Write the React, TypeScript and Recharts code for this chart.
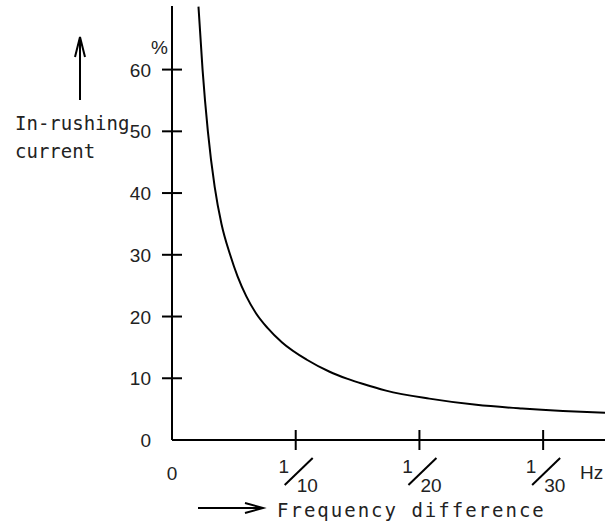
import { LineChart, Line, XAxis, YAxis } from 'recharts';

// frequency difference, plotted on the drawing's evenly spaced scale (1 = 1/10 Hz, 2 = 1/20 Hz, 3 = 1/30 Hz)
const FREQ = [0.214, 0.247, 0.29, 0.345, 0.4, 0.47, 0.53, 0.6, 0.68, 0.77, 0.89, 1.09, 1.27, 1.42, 1.54, 1.73, 2.08, 2.46, 2.83, 3.16, 3.5];
// in-rushing current, %
const CURRENT = [70.2, 60, 50, 41, 35, 30, 26.5, 23.3, 20.5, 18.2, 15.8, 13, 11.1, 9.9, 9.1, 8, 6.7, 5.7, 5.1, 4.7, 4.4];

const Y_TICKS = [0, 10, 20, 30, 40, 50, 60];
const X_TICKS = [0, 1, 2, 3];
const X_TICK_NUM = ['0', '1', '1', '1'];
const X_TICK_DEN = ['', '10', '20', '30'];

const data = FREQ.map((f, i) => ({ f, current: CURRENT[i] }));

const NUM_FONT = "'Liberation Sans Narrow', 'Liberation Sans', Arial, sans-serif";
const MONO_FONT = "'DejaVu Sans Mono', 'Liberation Mono', monospace";
const NUM_SIZE = 19;

const YTick = ({ x, y, payload }: any) => (
  <g>
    {payload.value !== 0 && (
      <line x1={x - 10} x2={x + 10} y1={y} y2={y} stroke="#000" strokeWidth={2} />
    )}
    <text x={x - 21} y={y + 7} textAnchor="end" fontSize={NUM_SIZE} fontFamily={NUM_FONT} fill="#222">
      {payload.value}
    </text>
  </g>
);

const XTick = ({ x, y, payload }: any) => {
  const i = X_TICKS.indexOf(payload.value);
  if (i <= 0) {
    return (
      <text x={x} y={y + 40} textAnchor="middle" fontSize={NUM_SIZE} fontFamily={NUM_FONT} fill="#222">
        0
      </text>
    );
  }
  return (
    <g>
      <line x1={x} x2={x} y1={y - 10} y2={y + 10} stroke="#000" strokeWidth={2} />
      <text x={x - 12} y={y + 33} textAnchor="middle" fontSize={NUM_SIZE} fontFamily={NUM_FONT} fill="#222">
        {X_TICK_NUM[i]}
      </text>
      <line x1={x - 11} y1={y + 45} x2={x + 17} y2={y + 18} stroke="#000" strokeWidth={2} />
      <text x={x + 1} y={y + 52} textAnchor="start" fontSize={NUM_SIZE} fontFamily={NUM_FONT} fill="#222">
        {X_TICK_DEN[i]}
      </text>
    </g>
  );
};

export default function App() {
  return (
    <div style={{ position: 'absolute', left: 0, top: 0, width: 612, height: 525, background: '#fff' }}>
      <LineChart width={612} height={525} data={data} margin={{ top: 6, right: 7, bottom: 25, left: 112 }}>
        <XAxis
          dataKey="f"
          type="number"
          domain={[0, 3.5]}
          ticks={X_TICKS}
          tick={<XTick />}
          tickSize={0}
          tickMargin={0}
          tickLine={false}
          height={60}
          axisLine={{ stroke: '#000', strokeWidth: 2 }}
          allowDataOverflow
        />
        <YAxis
          type="number"
          domain={[0, 70.3]}
          ticks={Y_TICKS}
          tick={<YTick />}
          tickSize={0}
          tickMargin={0}
          tickLine={false}
          width={60}
          axisLine={{ stroke: '#000', strokeWidth: 2 }}
          allowDataOverflow
        />
        <Line
          dataKey="current"
          type="monotone"
          stroke="#000"
          strokeWidth={2}
          dot={false}
          isAnimationActive={false}
        />
      </LineChart>
      <svg width={612} height={525} style={{ position: 'absolute', left: 0, top: 0, pointerEvents: 'none' }}>
        {/* up arrow */}
        <line x1={80} y1={38} x2={80} y2={100} stroke="#000" strokeWidth={2} />
        <polyline points="75,57 80,37 85,57" fill="none" stroke="#000" strokeWidth={2} />
        <text x={15} y={130} fontSize={19} fontFamily={MONO_FONT} fill="#222">In-rushing</text>
        <text x={15} y={158} fontSize={19} fontFamily={MONO_FONT} fill="#222">current</text>
        <text x={151} y={54} fontSize={NUM_SIZE} fontFamily={NUM_FONT} fill="#222">%</text>
        {/* right arrow */}
        <line x1={198} y1={508} x2={262} y2={508} stroke="#000" strokeWidth={2} />
        <polyline points="245,503 263,508 245,513" fill="none" stroke="#000" strokeWidth={2} />
        <text x={277} y={517} fontSize={19} fontFamily={MONO_FONT} letterSpacing={2} fill="#222">
          Frequency difference
        </text>
        <text x={580} y={479} fontSize={NUM_SIZE} fontFamily={NUM_FONT} fill="#222">Hz</text>
      </svg>
    </div>
  );
}
